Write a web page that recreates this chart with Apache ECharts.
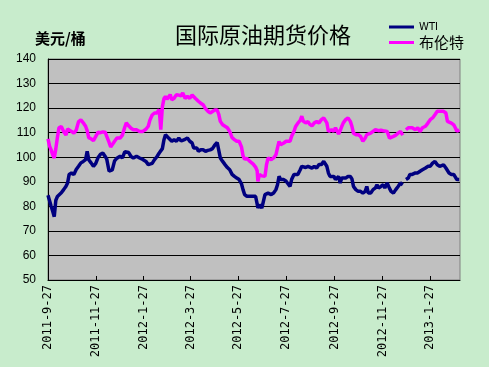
<!DOCTYPE html>
<html><head><meta charset="utf-8">
<script src="https://cdn.jsdelivr.net/npm/echarts@6/dist/echarts.min.js"></script>
<style>html,body{margin:0;padding:0;background:#C8ECCC}#c{width:489px;height:367px}</style>
</head><body><div id="c"></div>
<script>
const dates = [
'2011-09-27','2011-09-29','2011-10-01','2011-10-03','2011-10-05','2011-10-07','2011-10-09','2011-10-11','2011-10-14','2011-10-17',
'2011-10-20','2011-10-22','2011-10-24','2011-10-27','2011-10-30','2011-11-02','2011-11-05','2011-11-08','2011-11-11','2011-11-14',
'2011-11-16','2011-11-18','2011-11-21','2011-11-24','2011-11-27','2011-11-30','2011-12-03','2011-12-06','2011-12-09','2011-12-11',
'2011-12-14','2011-12-16','2011-12-18','2011-12-21','2011-12-24','2011-12-28','2011-12-31',
'2012-01-03','2012-01-05','2012-01-08','2012-01-11','2012-01-14','2012-01-18','2012-01-22','2012-01-26','2012-01-30',
'2012-02-02','2012-02-04','2012-02-07','2012-02-10','2012-02-13','2012-02-16','2012-02-18','2012-02-20','2012-02-22','2012-02-24','2012-02-26','2012-02-28',
'2012-03-01','2012-03-03','2012-03-06','2012-03-09','2012-03-12','2012-03-15','2012-03-17','2012-03-20','2012-03-23','2012-03-26','2012-03-29','2012-03-31',
'2012-04-02','2012-04-04','2012-04-06','2012-04-09','2012-04-12','2012-04-15','2012-04-18','2012-04-21','2012-04-24','2012-04-27','2012-04-30',
'2012-05-02','2012-05-04','2012-05-07','2012-05-10','2012-05-13','2012-05-16','2012-05-19','2012-05-22','2012-05-25','2012-05-28','2012-05-31',
'2012-06-02','2012-06-04','2012-06-07','2012-06-10','2012-06-12','2012-06-15','2012-06-18','2012-06-20','2012-06-21','2012-06-23','2012-06-26','2012-06-28','2012-06-30',
'2012-07-02','2012-07-04','2012-07-08','2012-07-11','2012-07-14','2012-07-16','2012-07-18','2012-07-20','2012-07-22','2012-07-24','2012-07-27','2012-07-29',
'2012-08-01','2012-08-03','2012-08-06','2012-08-08','2012-08-11','2012-08-14','2012-08-16','2012-08-18','2012-08-21','2012-08-24','2012-08-26','2012-08-29',
'2012-09-01','2012-09-04','2012-09-07','2012-09-10','2012-09-13','2012-09-15','2012-09-17','2012-09-19','2012-09-21','2012-09-23','2012-09-26','2012-09-28','2012-09-30',
'2012-10-02','2012-10-04','2012-10-06','2012-10-08','2012-10-11','2012-10-14','2012-10-17','2012-10-19','2012-10-21','2012-10-24','2012-10-27','2012-10-30',
'2012-11-02','2012-11-05','2012-11-07','2012-11-09','2012-11-12','2012-11-15','2012-11-18','2012-11-20','2012-11-22','2012-11-25','2012-11-28','2012-11-30',
'2012-12-03','2012-12-06','2012-12-08','2012-12-11','2012-12-14','2012-12-17','2012-12-20','2012-12-23','2012-12-25','2012-12-27','2012-12-30',
'2013-01-01','2013-01-04','2013-01-08','2013-01-11','2013-01-14','2013-01-17','2013-01-21','2013-01-24','2013-01-27','2013-01-30',
'2013-02-02','2013-02-05','2013-02-08','2013-02-10','2013-02-13','2013-02-16','2013-02-18','2013-02-20','2013-02-23','2013-02-26','2013-02-28',
'2013-03-02','2013-03-05'
];
const wti = [
84.5,82.3,80,78,75.8,82.5,84,84.8,85.5,86.8,
88.2,89.5,93,93.6,93,95,96.3,97.7,98.3,99,
102.4,99,97.7,96.3,97.5,99.9,101.2,101.7,100.3,99.2,
94.3,93.6,94.8,98.5,99.6,100.4,99.7,
102.2,103,101.9,100.3,99.7,100.4,99.7,99.1,98.3,
97,96.6,97.5,99,100.2,101.7,102.2,103.5,107,109.2,109,107.8,
108.5,106.5,107.1,106.5,107.8,106.6,107,107.3,107.8,106.5,105.8,103.8,
103,103.8,102.4,103,103,102.4,102.8,103,103.5,105,106,
105.8,99.7,98.3,97,95.8,94.9,93,92.2,91.5,90.9,89.2,
86.8,84.8,84.1,84.1,83.4,84.1,84.1,81,79.3,80.7,79.3,78.6,84.8,
85.4,85.4,84.8,85.4,86.8,88.8,92.2,90.9,90.2,90.9,90.2,90.9,
88.1,90.9,93,93.6,93,94.9,96.3,96,95.8,96.3,97,95.6,
96.3,95.6,97,97,98.3,99,96.3,93.6,92.2,91.5,92.2,90.9,91.5,
92.2,89.5,91.5,92.2,91.5,92.2,92.2,91.2,88.1,86.8,86.1,86.1,
85.4,86.1,88.1,85.4,85.4,86.8,87.5,88.8,87.5,88.1,88.8,87.5,
89.5,87.3,86.1,85.4,86.8,88.1,89.5,88.8,null,90.9,91.5,
93,93,93.6,93.6,94.3,94.9,95.6,96.3,96.3,97.6,
98.3,96.9,96.3,95.6,96.9,95.6,96.3,93.6,93,93,92.2,
90.9,90.9
];
const brent = [
107.5,104.5,103,101,99.7,103.5,108,112,112.5,110.5,
109,111.5,111,110.5,109.8,111,114.5,115.2,114,112.6,
110.8,108,107.5,106.8,108.5,110.2,110,110.3,110.2,108.5,
106,104.2,104.5,106.5,107.8,107.8,109,
112.2,114,112.8,111.8,111.2,111.2,110.5,110.5,111.4,
112.6,115,117.2,118,118,119.4,111.2,120.5,123.8,124.8,123.6,124,
125.5,123.4,124,125.5,125.3,125,126.2,124,124.8,124,125.3,124.5,
124,123.4,122.8,122,121.4,119.8,118.8,118,118.6,119.2,119.2,
117.5,114.6,113.2,112.6,112,110.5,108,107.2,106.5,106.5,104.2,
100.6,99.2,99.5,98.5,98,97.2,96,94.5,90.2,93,92.4,93,92.2,
97,99.7,99,99.7,101,103.8,106.4,105.1,104.4,105.8,106.5,105.8,
106.5,108.5,110.5,112.4,113.9,115,116.7,114.6,114,114.5,113.5,112.8,
114,114.5,114,115.3,116,116.7,114,110.5,109.8,111.2,110.5,112,111.2,
109.5,110.8,112.5,114,115.3,116,114.6,112.6,109.8,109.2,109.2,108.5,
106.5,107.8,109.2,108.5,109.8,110.5,111.2,111.2,110.8,111,110.8,111,
110.5,107.8,107.1,108.5,109,109.8,110.5,109,null,111.2,112,
112,112,111.2,112,110.5,112,112.6,113.9,115.3,116,
117.3,118.7,118.7,119.4,118.7,118,114.6,114.6,113.9,113.2,112,
110.5,111.2
];
const tickLabels = ['2011-9-27','2011-11-27','2012-1-27','2012-3-27','2012-5-27','2012-7-27','2012-9-27','2012-11-27','2013-1-27'];
const axisStart = '2011-9-27';
const axisEnd = '2013-3-6';
const seriesNames = ['WTI','布伦特'];

const ts = s => { const p = s.split('-').map(Number); return Date.UTC(p[0], p[1]-1, p[2]); };
const day = s => Math.round((ts(s) - ts(axisStart)) / 86400000);
const tickDays = tickLabels.map(day);
const toData = arr => dates.map((d, i) => [day(d), arr[i]]);

const chart = echarts.init(document.getElementById('c'));
chart.setOption({
  backgroundColor: '#C8ECCC',
  animation: false,
  title: [
    { text: '国际原油期货价格', left: 170, top: 19,
      textStyle: { fontFamily: 'Noto Sans CJK SC', fontSize: 22, fontWeight: 'normal', color: '#000' } },
    { text: '美元/桶', left: 30, top: 26,
      textStyle: { fontFamily: 'Noto Sans CJK SC', fontSize: 15, fontWeight: 'bold', color: '#000' } }
  ],
  legend: {
    orient: 'vertical', left: 384, top: 17, itemWidth: 25, itemHeight: 3, itemGap: 3,
    icon: 'rect',
    data: seriesNames,
    formatter: n => n === 'WTI' ? '{a|' + n + '}' : '{b|' + n + '}',
    textStyle: { color: '#000', rich: {
      a: { fontFamily: 'DejaVu Sans', fontSize: 10, lineHeight: 14, color: '#000' },
      b: { fontFamily: 'Noto Sans CJK SC', fontSize: 15, lineHeight: 20, color: '#000' } } }
  },
  grid: { left: 48, top: 59, right: 29, bottom: 87, show: true, backgroundColor: '#C0C0C0',
          borderColor: '#808080', borderWidth: 1 },
  xAxis: {
    type: 'value', min: 0, max: day(axisEnd),
    axisLine: { show: true, lineStyle: { color: '#000', width: 1 } },
    axisTick: { show: true, inside: true, length: 4, customValues: tickDays, lineStyle: { color: '#000' } },
    axisLabel: { customValues: tickDays, rotate: 90, margin: 5, color: '#000',
      fontFamily: 'DejaVu Sans Mono', fontSize: 12,
      formatter: v => { const i = tickDays.indexOf(v); return i >= 0 ? tickLabels[i] : ''; } },
    splitLine: { show: false }
  },
  yAxis: {
    type: 'value', min: 50, max: 140, interval: 10,
    axisLine: { show: true, lineStyle: { color: '#000', width: 1 } },
    axisTick: { show: false },
    axisLabel: { margin: 12, color: '#000', fontFamily: 'Liberation Sans', fontSize: 12 },
    splitLine: { show: true, lineStyle: { color: '#000', width: 1 } }
  },
  series: [
    { name: 'WTI', type: 'line', data: toData(wti), showSymbol: false, symbol: 'none',
      connectNulls: false, lineStyle: { color: '#000080', width: 3.5 }, itemStyle: { color: '#000080' } },
    { name: '布伦特', type: 'line', data: toData(brent), showSymbol: false, symbol: 'none',
      connectNulls: false, lineStyle: { color: '#FF00FF', width: 3.5 }, itemStyle: { color: '#FF00FF' } }
  ]
});
</script></body></html>
